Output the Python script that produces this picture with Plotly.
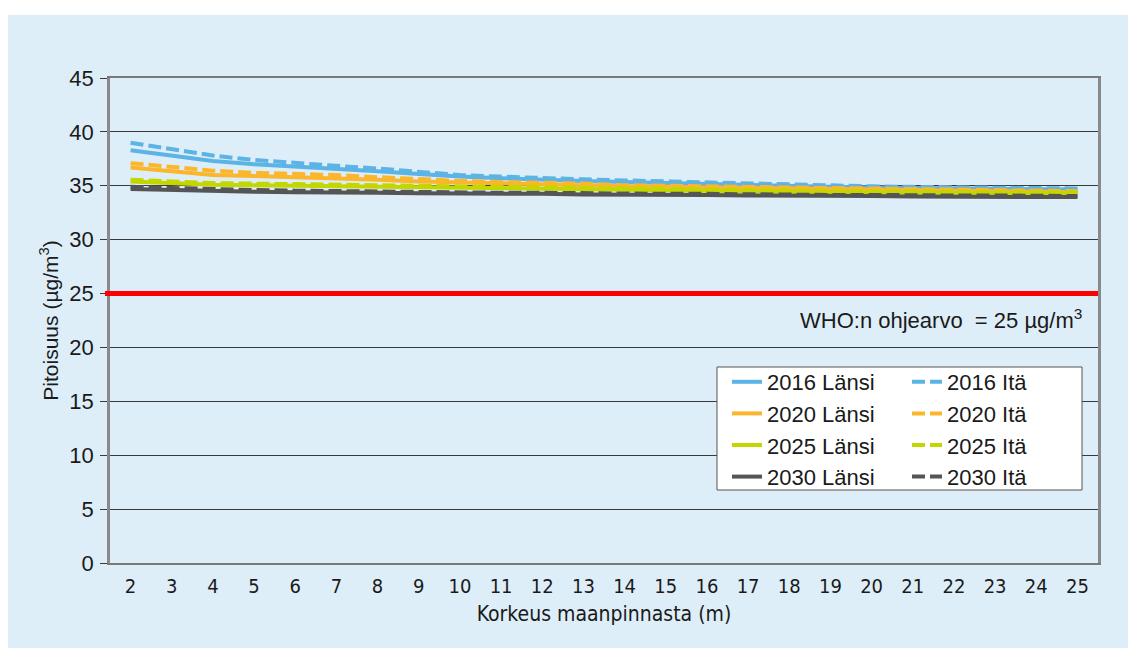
import plotly.graph_objects as go

heights = list(range(2, 26))

lansi_2016 = [38.3, 37.8, 37.3, 37.0, 36.8, 36.6, 36.35, 36.1, 35.85, 35.7, 35.55, 35.45, 35.35, 35.25, 35.15, 35.05, 34.95, 34.9, 34.85, 34.8, 34.75, 34.7, 34.7, 34.65]
ita_2016 = [39.0, 38.4, 37.8, 37.4, 37.1, 36.85, 36.6, 36.3, 36.0, 35.85, 35.7, 35.6, 35.5, 35.4, 35.3, 35.2, 35.1, 35.0, 34.95, 34.9, 34.85, 34.8, 34.8, 34.75]
lansi_2020 = [36.7, 36.35, 36.0, 35.9, 35.8, 35.7, 35.55, 35.4, 35.3, 35.2, 35.1, 35.05, 34.95, 34.9, 34.85, 34.8, 34.7, 34.65, 34.6, 34.55, 34.5, 34.5, 34.45, 34.4]
ita_2020 = [37.1, 36.75, 36.4, 36.2, 36.1, 36.0, 35.8, 35.6, 35.45, 35.35, 35.3, 35.2, 35.05, 35.0, 34.95, 34.9, 34.85, 34.75, 34.7, 34.65, 34.6, 34.55, 34.5, 34.5]
lansi_2025 = [35.4, 35.25, 35.1, 35.05, 35.0, 34.95, 34.9, 34.85, 34.8, 34.75, 34.7, 34.65, 34.6, 34.55, 34.5, 34.5, 34.45, 34.4, 34.4, 34.35, 34.35, 34.3, 34.3, 34.3]
ita_2025 = [35.55, 35.4, 35.25, 35.2, 35.15, 35.1, 35.0, 34.95, 34.9, 34.85, 34.8, 34.75, 34.7, 34.65, 34.6, 34.6, 34.55, 34.5, 34.5, 34.45, 34.45, 34.4, 34.4, 34.4]
lansi_2030 = [34.7, 34.6, 34.5, 34.45, 34.4, 34.4, 34.35, 34.3, 34.3, 34.25, 34.25, 34.2, 34.2, 34.15, 34.15, 34.1, 34.1, 34.05, 34.05, 34.0, 34.0, 34.0, 33.95, 33.95]
ita_2030 = [34.9, 34.8, 34.65, 34.6, 34.55, 34.5, 34.45, 34.4, 34.4, 34.35, 34.35, 34.3, 34.3, 34.25, 34.25, 34.2, 34.2, 34.15, 34.15, 34.1, 34.1, 34.1, 34.05, 34.05]

who_limit = 25
y_ticks = list(range(0, 50, 5))

series = [
    ("2016 Länsi", lansi_2016, "#5BB4E5", "solid", "legend"),
    ("2016 Itä", ita_2016, "#5BB4E5", "13px,5px", "legend2"),
    ("2020 Länsi", lansi_2020, "#FBB62C", "solid", "legend"),
    ("2020 Itä", ita_2020, "#FBB62C", "13px,5px", "legend2"),
    ("2025 Länsi", lansi_2025, "#C4D600", "solid", "legend"),
    ("2025 Itä", ita_2025, "#C4D600", "13px,5px", "legend2"),
    ("2030 Länsi", lansi_2030, "#555555", "solid", "legend"),
    ("2030 Itä", ita_2030, "#555555", "13px,5px", "legend2"),
]

FONT = "Liberation Sans, Arial, sans-serif"
COND = "DejaVu Sans Condensed, Liberation Sans Narrow, Liberation Sans, sans-serif"
TXT = "#1a1a1a"

fig = go.Figure()
for name, vals, col, dash, lg in series:
    fig.add_trace(go.Scatter(
        x=[str(h) for h in heights], y=vals, mode="lines", name=name,
        line=dict(color=col, width=4, dash=dash),
        legend=lg, legendgroup=name,
    ))

# Figure is offset by the page's 8px body margin
W, H = 1128, 640
L, R, T, B = 102, 38, 70, 85
PW, PH = W - L - R, H - T - B


def px(xf):
    return (xf - L) / PW


def py(yf):
    return (H - B - yf) / PH


leg_common = dict(
    xanchor="left", yanchor="top",
    bgcolor="rgba(0,0,0,0)", borderwidth=0,
    font=dict(family=FONT, size=22, color=TXT),
    tracegroupgap=3, traceorder="normal",
)

fig.update_layout(
    width=W, height=H,
    paper_bgcolor="white",
    plot_bgcolor="white",
    margin=dict(l=L, r=R, t=T, b=B),
    font=dict(family=FONT, size=20, color=TXT),
    showlegend=True,
    legend=dict(x=px(719), y=py(353), **leg_common),
    legend2=dict(x=px(899), y=py(353), **leg_common),
    xaxis=dict(
        type="category",
        range=[-0.5, len(heights) - 0.5],
        showgrid=False, ticks="",
        showline=True, linecolor="#7a7a7a", linewidth=1.5, mirror=True,
        tickfont=dict(family=COND, size=20, color=TXT),
        title=dict(text="Korkeus maanpinnasta (m)", font=dict(family=COND, size=21, color=TXT), standoff=10),
        ticklabelstandoff=4,
    ),
    yaxis=dict(
        range=[0, 45],
        tickvals=y_ticks,
        showgrid=True, gridcolor="#3a3a3a", gridwidth=1,
        ticks="outside", ticklen=7, tickcolor="#3a3a3a",
        showline=True, linecolor="#8a8a8a", linewidth=2.5, mirror=True,
        zeroline=False,
        tickfont=dict(family=FONT, size=22, color=TXT),
        ticklabelstandoff=2,
        title=dict(text="Pitoisuus (µg/m<sup>3</sup>)", font=dict(family=FONT, size=21, color=TXT), standoff=6),
    ),
    shapes=[
        dict(type="rect", xref="paper", yref="paper",
             x0=px(0), x1=px(W + 10),
             y0=py(H + 10), y1=py(7),
             fillcolor="#DEEEF8", line=dict(width=0), layer="below"),
        dict(type="line", xref="paper", yref="y",
             x0=px(97), x1=1, y0=who_limit, y1=who_limit,
             line=dict(color="#FF0000", width=5), layer="above"),
        dict(type="rect", xref="paper", yref="paper",
             x0=px(709), x1=px(1074),
             y0=py(482), y1=py(359),
             fillcolor="white", line=dict(color="#555555", width=1), layer="above"),
    ],
    annotations=[
        dict(text="WHO:n ohjearvo  = 25 µg/m<sup>3</sup>", xref="paper", yref="paper",
             x=px(1076), y=py(311),
             xanchor="right", yanchor="middle", showarrow=False,
             font=dict(family=FONT, size=22, color=TXT)),
    ],
)

fig.write_html("out.html")
